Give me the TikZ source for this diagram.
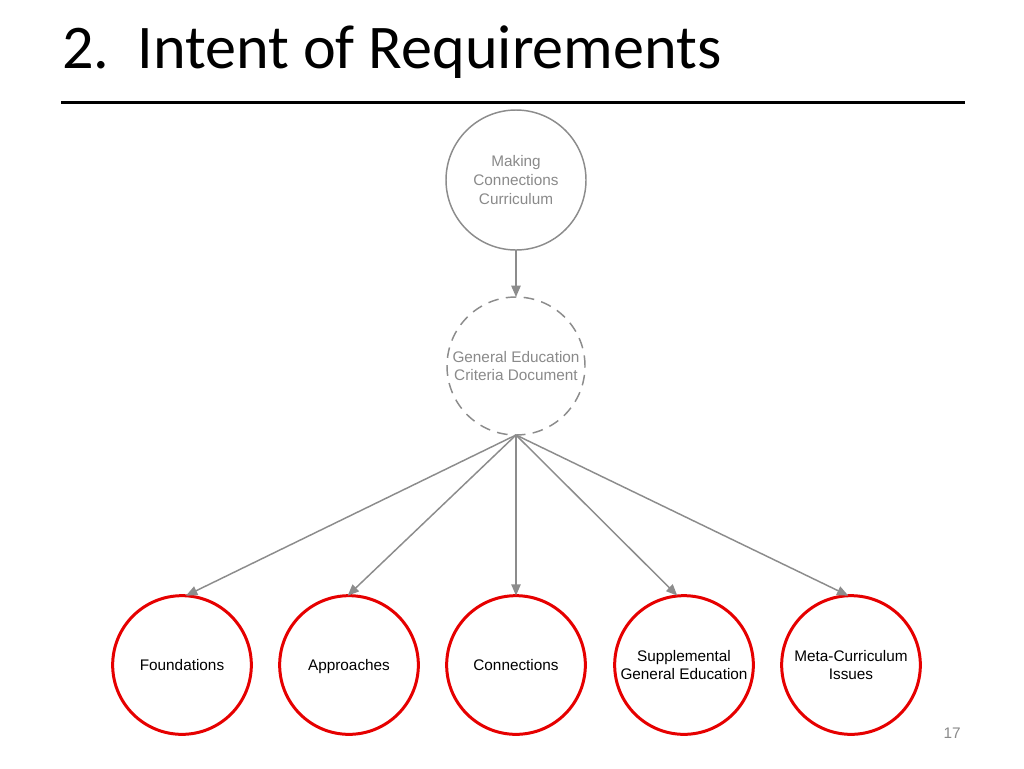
\documentclass[tikz,border=0pt]{standalone}
\usepackage{fontspec}
\setmainfont{Liberation Sans}
\newfontfamily\titlefont{Carlito}
\usetikzlibrary{arrows.meta}
\definecolor{lgray}{HTML}{8C8C8C}
\definecolor{tgray}{HTML}{8A8A8A}
\definecolor{cred}{HTML}{E60000}
\newcommand\lblstrut{\rule[-2pt]{0pt}{12.2pt}}
\begin{document}
\begin{tikzpicture}[x=0.75pt,y=-0.75pt,
  graycirc/.style={circle,draw=lgray,line width=1.1pt,minimum size=105pt,inner sep=0pt,outer sep=0pt,
    text=tgray,font=\fontsize{11.5}{13.9}\selectfont,align=center},
  dashcirc/.style={graycirc,minimum size=103.5pt,dash pattern=on 8pt off 5.5pt},
  redcirc/.style={circle,draw=cred,line width=2.25pt,minimum size=104pt,inner sep=0pt,outer sep=0pt,
    text=black,font=\fontsize{11.5}{13.7}\selectfont,align=center},
  conn/.style={draw=lgray,line width=1.1pt,-{Triangle[length=8.5pt,width=7pt]}}]
\useasboundingbox[fill=white] (0,0) rectangle (1024,768);
\node[anchor=base west,inner sep=0pt,font=\titlefont\fontsize{46.6}{50}\selectfont] (title) at (62,68) {2.\ \ Intent of Requirements};
\draw[line width=2.25pt] (61,102) coordinate (ls) -- (965,102) coordinate (le);
\node[graycirc] (mcc) at (516,180) {\lblstrut Making\\\lblstrut Connections\\\lblstrut Curriculum};
\node[dashcirc] (ged) at (516,366) {\lblstrut General Education\\\lblstrut Criteria Document};
\node[redcirc] (f) at (182,665) {\lblstrut Foundations};
\node[redcirc] (a) at (349,665) {\lblstrut Approaches};
\node[redcirc] (c) at (516,665) {\lblstrut Connections};
\node[redcirc] (s) at (684,665) {\lblstrut Supplemental\\\lblstrut General Education};
\node[redcirc] (m) at (851,665) {\lblstrut Meta-Curriculum\\\lblstrut Issues};
\draw[conn] (mcc.south) -- (ged.north);
\draw[conn] (ged.south) -- ([xshift=3pt]f.north);
\draw[conn] (ged.south) -- ([xshift=-1pt]a.north);
\draw[conn] (ged.south) -- (c.north);
\draw[conn] (ged.south) -- ([xshift=-5pt]s.north);
\draw[conn] (ged.south) -- ([xshift=-2pt]m.north);
\node[anchor=base east,inner sep=0pt,text=tgray,font=\fontsize{11.5}{13}\selectfont] (pg) at (961,738) {17};
\end{tikzpicture}
\end{document}
